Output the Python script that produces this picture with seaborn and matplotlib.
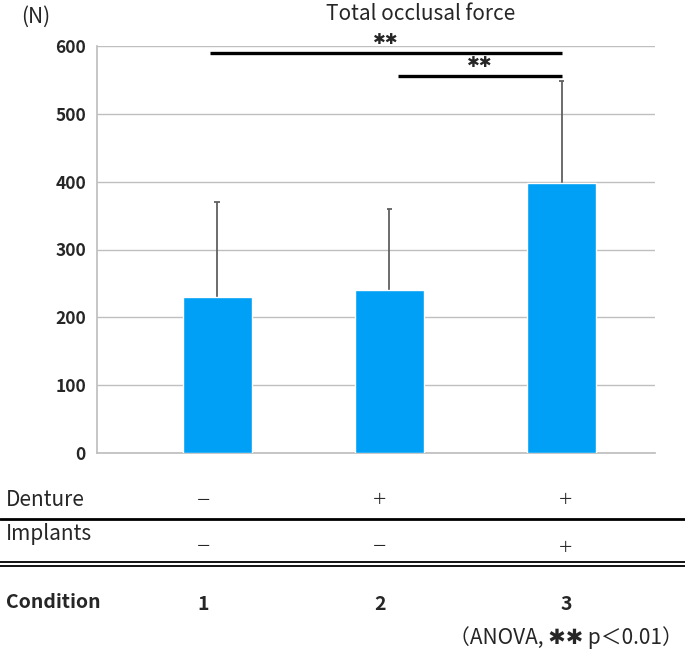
import numpy as np
import pandas as pd
import matplotlib
matplotlib.use("Agg")
import matplotlib.pyplot as plt
from matplotlib.lines import Line2D
import seaborn as sns

# data
conditions = ["1", "2", "3"]
mean_force = [230, 240, 398]
sd_force = [140, 120, 150]
denture = ["－", "＋", "＋"]
implants = ["－", "－", "＋"]
y_ticks = [0, 100, 200, 300, 400, 500, 600]
# significance bars: (start, end, height)
sig_bars = [(-0.04, 2.0, 590), (1.05, 2.0, 556)]

W, H = 685, 659

sns.set_theme(style="white")
plt.rcParams['font.family'] = ['Noto Sans CJK JP', 'DejaVu Sans']


def fx(px):
    return px / W


def fy(py):
    return 1 - py / H


fig = plt.figure(figsize=(W / 100, H / 100), dpi=100)
ax = fig.add_axes([fx(97), fy(453), fx(655) - fx(97), fy(46) - fy(453)])

df = pd.DataFrame({"Condition": conditions, "Force": mean_force})
sns.barplot(data=df, x="Condition", y="Force", color="#00A0F6",
            width=0.4, saturation=1, errorbar=None, ax=ax, zorder=3)

# upper-only error bars with a tiny cap
xpos = np.arange(len(conditions))
tops = np.array(mean_force) + np.array(sd_force)
ax.vlines(xpos, mean_force, tops, color="#606060", linewidth=1.3, zorder=2)
ax.hlines(tops, xpos - 0.015, xpos + 0.015, color="#606060",
          linewidth=1.3, zorder=2)

ax.set_ylim(0, 600)
ax.set_xlim(-0.696, 2.54)
ax.set_yticks(y_ticks)
ax.set_yticklabels([str(t) for t in y_ticks], fontsize=12.5, fontweight="bold")
ax.set_xticks([])
ax.set_xlabel("")
ax.set_ylabel("")
ax.yaxis.grid(True, color="#bfbfbf", linewidth=1)
ax.set_axisbelow(True)
for s in ["top", "right"]:
    ax.spines[s].set_visible(False)
ax.spines["left"].set_color("#bfbfbf")
ax.spines["bottom"].set_color("#bfbfbf")
ax.tick_params(axis="y", length=0, pad=8)

for x0, x1, h in sig_bars:
    ax.plot([x0, x1], [h, h], color="black", linewidth=2.4, zorder=4,
            solid_capstyle="butt")
    ax.text((x0 + x1) / 2, h + 19, "✱✱", ha="center", va="center",
            fontsize=11, family="DejaVu Sans", zorder=4)

fig.text(fx(36), fy(17), "(N)", ha="center", va="center", fontsize=15)
fig.text(fx(421), fy(14), "Total occlusal force", ha="center",
         va="center", fontsize=15)

col_x = [203, 380, 566]
fig.text(fx(6), fy(500), "Denture", ha="left", va="center", fontsize=15)
fig.text(fx(6), fy(534), "Implants", ha="left", va="center", fontsize=15)
for i, x in enumerate(col_x):
    fig.text(fx(x), fy(500), denture[i], ha="center", va="center", fontsize=11)
    fig.text(fx(x), fy(547), implants[i], ha="center", va="center", fontsize=11)
    fig.text(fx(x), fy(604), conditions[i], ha="center", va="center",
             fontsize=14, fontweight="bold")
fig.text(fx(6), fy(603), "Condition", ha="left", va="center",
         fontsize=14, fontweight="bold")
fig.text(fx(683), fy(638), "（ANOVA, ✱✱ p＜0.01）", ha="right", va="center",
         fontsize=15)

fig.add_artist(Line2D([0, 1], [fy(519), fy(519)], color="black", linewidth=2.0))
fig.add_artist(Line2D([0, 1], [fy(562), fy(562)], color="black", linewidth=1.3))
fig.add_artist(Line2D([0, 1], [fy(566), fy(566)], color="black", linewidth=1.3))

fig.savefig("out.png", dpi=100, facecolor="white")
